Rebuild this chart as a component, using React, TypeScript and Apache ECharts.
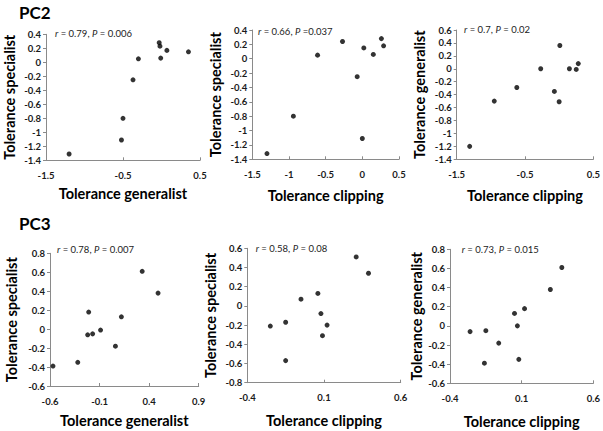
import React, { useEffect, useRef } from "react";
import * as echarts from "echarts";

// ---- data ----
// PC2
const pc2GenA = [-1.2, -0.5, -0.52, -0.37, -0.3, -0.03, -0.02, -0.01, 0.07, 0.35];
const pc2SpecA = [-1.31, -0.8, -1.11, -0.25, 0.05, 0.28, 0.23, 0.06, 0.17, 0.15];
const pc2ClipB = [-1.3, -0.94, -0.61, -0.27, -0.07, 0.02, 0.0, 0.15, 0.26, 0.29];
const pc2SpecB = [-1.32, -0.8, 0.05, 0.24, -0.25, 0.15, -1.11, 0.06, 0.28, 0.18];
const pc2ClipC = [-1.31, -0.95, -0.62, -0.27, -0.07, 0.0, 0.01, 0.15, 0.25, 0.28];
const pc2GenC = [-1.2, -0.5, -0.29, 0.0, -0.35, -0.51, 0.36, 0.0, -0.01, 0.08];
// PC3
const pc3GenA = [-0.57, -0.32, -0.21, -0.22, -0.17, -0.09, 0.06, 0.12, 0.33, 0.49];
const pc3SpecA = [-0.39, -0.35, 0.18, -0.06, -0.05, -0.01, -0.18, 0.13, 0.61, 0.38];
const pc3ClipB = [-0.25, -0.15, -0.15, -0.05, 0.06, 0.08, 0.09, 0.12, 0.31, 0.39];
const pc3SpecB = [-0.21, -0.17, -0.57, 0.07, 0.13, -0.08, -0.31, -0.2, 0.51, 0.34];
const pc3ClipC = [-0.26, -0.15, -0.16, -0.06, 0.05, 0.07, 0.08, 0.12, 0.3, 0.38];
const pc3GenC = [-0.06, -0.05, -0.39, -0.18, 0.13, 0.0, -0.35, 0.18, 0.38, 0.61];

// ---- tick labels ----
const xTicksWide2 = [-1.5, -0.5, 0.5];
const xTicksHalf = [-1.5, -1, -0.5, 0, 0.5];
const yTicksA = [-1.4, -1.2, -1, -0.8, -0.6, -0.4, -0.2, 0, 0.2, 0.4];
const yTicksC = [-1.4, -1.2, -1, -0.8, -0.6, -0.4, -0.2, 0, 0.2, 0.4, 0.6];
const xTicksPc3A = [-0.6, -0.1, 0.4, 0.9];
const xTicksPc3B = [-0.4, 0.1, 0.6];
const yTicksPc3A = [-0.6, -0.4, -0.2, 0, 0.2, 0.4, 0.6, 0.8];
const yTicksPc3B = [-0.8, -0.6, -0.4, -0.2, 0, 0.2, 0.4, 0.6];

const statsR = ["0.79", "0.66", "0.7", "0.78", "0.58", "0.73"];
const statsP = [" = 0.006", " =0.037", " = 0.02", " = 0.007", " = 0.08", " = 0.015"];

const FONT = "Lato, 'Liberation Sans', sans-serif";
const AXIS_COLOR = "#8a8a8a";

type Panel = {
  xs: number[];
  ys: number[];
  xTicks: number[];
  yTicks: number[];
  xName: string;
  yName: string;
  grid: { left: number; top: number; width: number; height: number };
  xGap: number;
  yGap: number;
  ann: [number, number];
};

const panels: Panel[] = [
  { xs: pc2GenA, ys: pc2SpecA, xTicks: xTicksWide2, yTicks: yTicksA, xName: "Tolerance generalist", yName: "Tolerance specialist", grid: { left: 46, top: 34.3, width: 154, height: 126 }, xGap: 26, yGap: 29, ann: [55, 33] },
  { xs: pc2ClipB, ys: pc2SpecB, xTicks: xTicksHalf, yTicks: yTicksA, xName: "Tolerance clipping", yName: "Tolerance specialist", grid: { left: 252.3, top: 30, width: 146.7, height: 129.3 }, xGap: 29, yGap: 29, ann: [258, 31.7] },
  { xs: pc2ClipC, ys: pc2GenC, xTicks: xTicksWide2, yTicks: yTicksC, xName: "Tolerance clipping", yName: "Tolerance generalist", grid: { left: 456.7, top: 30, width: 136.6, height: 129.3 }, xGap: 29, yGap: 30, ann: [464, 29.3] },
  { xs: pc3GenA, ys: pc3SpecA, xTicks: xTicksPc3A, yTicks: yTicksPc3A, xName: "Tolerance generalist", yName: "Tolerance specialist", grid: { left: 50, top: 253.3, width: 148.7, height: 132.7 }, xGap: 27, yGap: 31, ann: [57, 249.3] },
  { xs: pc3ClipB, ys: pc3SpecB, xTicks: xTicksPc3B, yTicks: yTicksPc3B, xName: "Tolerance clipping", yName: "Tolerance specialist", grid: { left: 247.3, top: 248.3, width: 153.4, height: 134.4 }, xGap: 30, yGap: 29, ann: [255.7, 248.3] },
  { xs: pc3ClipC, ys: pc3GenC, xTicks: xTicksPc3B, yTicks: yTicksPc3A, xName: "Tolerance clipping", yName: "Tolerance generalist", grid: { left: 450, top: 249.3, width: 144.3, height: 134 }, xGap: 31, yGap: 25, ann: [461.7, 249.3] },
];

export default function App() {
  const ref = useRef<HTMLDivElement>(null);
  useEffect(() => {
    document.body.style.margin = "0";
    if (!ref.current) return;
    const chart = echarts.init(ref.current, undefined, { renderer: "svg" });
    const labelStyle = { color: "#1a1a1a", fontFamily: FONT, fontWeight: "bold" as const, fontSize: 9.5 };
    const nameStyle = { color: "#000", fontFamily: FONT, fontWeight: "bold" as const, fontSize: 14.5 };
    const option: any = {
      animation: false,
      backgroundColor: "#fff",
      grid: panels.map((p) => ({ ...p.grid, containLabel: false })),
      xAxis: panels.map((p, i) => ({
        type: "value",
        gridIndex: i,
        min: p.xTicks[0],
        max: p.xTicks[p.xTicks.length - 1],
        name: p.xName,
        nameLocation: "middle",
        nameGap: p.xGap,
        nameTextStyle: nameStyle,
        splitLine: { show: false },
        axisLine: { show: true, onZero: false, lineStyle: { color: AXIS_COLOR, width: 1 } },
        axisTick: { show: true, inside: true, length: 3, customValues: p.xTicks, lineStyle: { color: AXIS_COLOR } },
        axisLabel: { ...labelStyle, margin: 10, customValues: p.xTicks, formatter: (v: number) => String(v), showMinLabel: true, showMaxLabel: true },
      })),
      yAxis: panels.map((p, i) => ({
        type: "value",
        gridIndex: i,
        min: p.yTicks[0],
        max: p.yTicks[p.yTicks.length - 1],
        name: p.yName,
        nameLocation: "middle",
        nameGap: p.yGap,
        nameTextStyle: nameStyle,
        splitLine: { show: false },
        axisLine: { show: true, onZero: false, lineStyle: { color: AXIS_COLOR, width: 1 } },
        axisTick: { show: true, inside: false, length: 3, customValues: p.yTicks, lineStyle: { color: AXIS_COLOR } },
        axisLabel: { ...labelStyle, margin: 5, customValues: p.yTicks, formatter: (v: number) => String(v), showMinLabel: true, showMaxLabel: true },
      })),
      series: panels.map((p, i) => ({
        type: "scatter",
        xAxisIndex: i,
        yAxisIndex: i,
        symbol: "circle",
        symbolSize: 5,
        itemStyle: { color: "#000" },
        data: p.xs.map((x, k) => [x, p.ys[k]]),
      })),
      graphic: [
        { type: "text", left: 19, top: 4, style: { text: "PC2", font: `bold 17px ${FONT}`, fill: "#000" } },
        { type: "text", left: 19, top: 215, style: { text: "PC3", font: `bold 17px ${FONT}`, fill: "#000" } },
        ...panels.map((p, i) => ({
          type: "text",
          x: p.ann[0],
          y: p.ann[1],
          style: {
            text: `{i|r} = ${statsR[i]}, {i|P}${statsP[i]}`,
            fill: "#222",
            font: `9.5px ${FONT}`,
            verticalAlign: "middle",
            rich: { i: { fontStyle: "italic", fontFamily: FONT, fontSize: 9.5, fill: "#222" } },
          },
        })),
      ],
    };
    chart.setOption(option);
    return () => chart.dispose();
  }, []);
  return <div ref={ref} style={{ width: 603, height: 431 }} />;
}
